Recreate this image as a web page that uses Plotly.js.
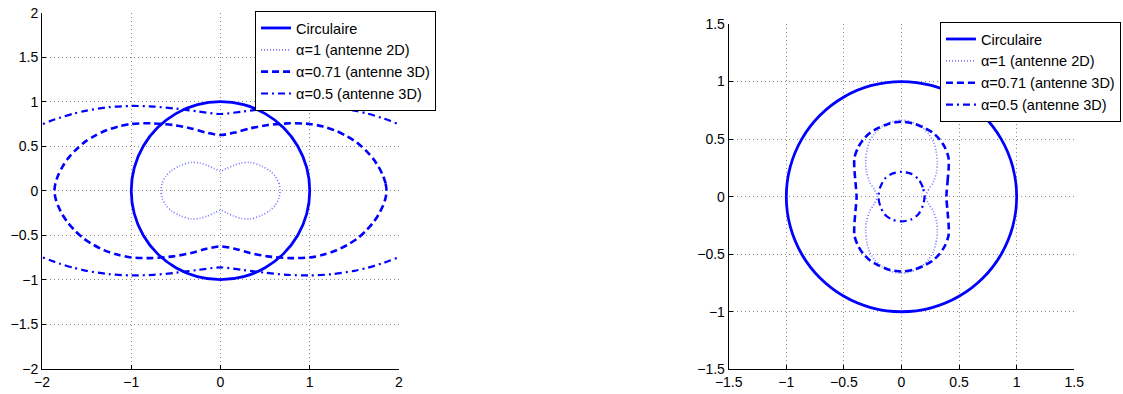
<!DOCTYPE html>
<html>
<head>
<meta charset="utf-8">
<script src="https://cdn.plot.ly/plotly-3.0.1.min.js"></script>
<style>html,body{margin:0;padding:0;background:#fff;}#chart{width:1123px;height:394px;}</style>
</head>
<body>
<div id="chart"></div>
<script>
// Legend labels
const seriesNames = ["Circulaire", "α=1 (antenne 2D)", "α=0.71 (antenne 3D)", "α=0.5 (antenne 3D)"];

// Unit circle (both panels)
const circleX = [1, 0.966, 0.866, 0.707, 0.5, 0.259, 0, -0.259, -0.5, -0.707, -0.866, -0.966, -1, -0.966, -0.866, -0.707, -0.5, -0.259, 0, 0.259, 0.5, 0.707, 0.866, 0.966, 1];
const circleY = [0, 0.259, 0.5, 0.707, 0.866, 0.966, 1, 0.966, 0.866, 0.707, 0.5, 0.259, 0, -0.259, -0.5, -0.707, -0.866, -0.966, -1, -0.966, -0.866, -0.707, -0.5, -0.259, 0];

// Left panel, alpha = 1 (dotted peanut)
const leftA1X = [0.667, 0.655, 0.615, 0.55, 0.454, 0.33, 0.23, 0.15, 0.07, 0, -0.07, -0.15, -0.23, -0.33, -0.454, -0.55, -0.615, -0.655, -0.667, -0.655, -0.615, -0.55, -0.454, -0.33, -0.23, -0.15, -0.07, 0, 0.07, 0.15, 0.23, 0.33, 0.454, 0.55, 0.615, 0.655, 0.667];
const leftA1Y = [0, 0.08, 0.16, 0.225, 0.28, 0.318, 0.31, 0.285, 0.25, 0.22, 0.25, 0.285, 0.31, 0.318, 0.28, 0.225, 0.16, 0.08, 0, -0.08, -0.16, -0.225, -0.28, -0.318, -0.31, -0.285, -0.25, -0.22, -0.25, -0.285, -0.31, -0.318, -0.28, -0.225, -0.16, -0.08, 0];

// Left panel, alpha = 0.71 (dashed)
const leftA071X = [1.86, 1.85, 1.82, 1.77, 1.71, 1.63, 1.53, 1.42, 1.3, 1.15, 1.0, 0.78, 0.53, 0.33, 0.17, 0, -0.17, -0.33, -0.53, -0.78, -1.0, -1.15, -1.3, -1.42, -1.53, -1.63, -1.71, -1.77, -1.82, -1.85, -1.86, -1.85, -1.82, -1.77, -1.71, -1.63, -1.53, -1.42, -1.3, -1.15, -1.0, -0.78, -0.53, -0.33, -0.17, 0, 0.17, 0.33, 0.53, 0.78, 1.0, 1.15, 1.3, 1.42, 1.53, 1.63, 1.71, 1.77, 1.82, 1.85, 1.86];
const leftA071Y = [0, 0.08, 0.17, 0.27, 0.36, 0.45, 0.54, 0.61, 0.67, 0.72, 0.75, 0.757, 0.738, 0.7, 0.655, 0.626, 0.655, 0.7, 0.738, 0.757, 0.75, 0.72, 0.67, 0.61, 0.54, 0.45, 0.36, 0.27, 0.17, 0.08, 0, -0.08, -0.17, -0.27, -0.36, -0.45, -0.54, -0.61, -0.67, -0.72, -0.75, -0.757, -0.738, -0.7, -0.655, -0.626, -0.655, -0.7, -0.738, -0.757, -0.75, -0.72, -0.67, -0.61, -0.54, -0.45, -0.36, -0.27, -0.17, -0.08, 0];

// Left panel, alpha = 0.5 (dash-dot, runs past the axes)
const leftA05X = [-2.1, -2.0, -1.9, -1.8, -1.65, -1.5, -1.25, -1.0, -0.75, -0.5, -0.25, 0, 0.25, 0.5, 0.75, 1.0, 1.25, 1.5, 1.65, 1.8, 1.9, 2.0, 2.1, null, -2.1, -2.0, -1.9, -1.8, -1.65, -1.5, -1.25, -1.0, -0.75, -0.5, -0.25, 0, 0.25, 0.5, 0.75, 1.0, 1.25, 1.5, 1.65, 1.8, 1.9, 2.0, 2.1];
const leftA05Y = [0.7, 0.745, 0.785, 0.82, 0.865, 0.9, 0.938, 0.952, 0.945, 0.922, 0.89, 0.862, 0.89, 0.922, 0.945, 0.952, 0.938, 0.9, 0.865, 0.82, 0.785, 0.745, 0.7, null, -0.7, -0.745, -0.785, -0.82, -0.865, -0.9, -0.938, -0.952, -0.945, -0.922, -0.89, -0.862, -0.89, -0.922, -0.945, -0.952, -0.938, -0.9, -0.865, -0.82, -0.785, -0.745, -0.7];

// Right panel, alpha = 1 (dotted vertical peanut)
const rightA1X = [0.21, 0.235, 0.278, 0.305, 0.311, 0.3, 0.28, 0.24, 0.17, 0.085, 0, -0.085, -0.17, -0.24, -0.28, -0.3, -0.311, -0.305, -0.278, -0.235, -0.21, -0.235, -0.278, -0.305, -0.311, -0.3, -0.28, -0.24, -0.17, -0.085, 0, 0.085, 0.17, 0.24, 0.28, 0.3, 0.311, 0.305, 0.278, 0.235, 0.21];
const rightA1Y = [0, 0.06, 0.13, 0.22, 0.3, 0.4, 0.47, 0.54, 0.61, 0.65, 0.665, 0.65, 0.61, 0.54, 0.47, 0.4, 0.3, 0.22, 0.13, 0.06, 0, -0.06, -0.13, -0.22, -0.3, -0.4, -0.47, -0.54, -0.61, -0.65, -0.665, -0.65, -0.61, -0.54, -0.47, -0.4, -0.3, -0.22, -0.13, -0.06, 0];

// Right panel, alpha = 0.71 (dashed)
const rightA071X = [0.39, 0.4, 0.41, 0.408, 0.377, 0.332, 0.27, 0.2, 0.115, 0, -0.115, -0.2, -0.27, -0.332, -0.377, -0.408, -0.41, -0.4, -0.39, -0.4, -0.41, -0.408, -0.377, -0.332, -0.27, -0.2, -0.115, 0, 0.115, 0.2, 0.27, 0.332, 0.377, 0.408, 0.41, 0.4, 0.39];
const rightA071Y = [0, 0.13, 0.26, 0.34, 0.427, 0.496, 0.557, 0.597, 0.632, 0.651, 0.632, 0.597, 0.557, 0.496, 0.427, 0.34, 0.26, 0.13, 0, -0.13, -0.26, -0.34, -0.427, -0.496, -0.557, -0.597, -0.632, -0.651, -0.632, -0.597, -0.557, -0.496, -0.427, -0.34, -0.26, -0.13, 0];

// Right panel, alpha = 0.5 (dash-dot small loop)
const rightA05X = [0.2, 0.185, 0.145, 0.08, 0, -0.08, -0.145, -0.185, -0.2, -0.185, -0.145, -0.08, 0, 0.08, 0.145, 0.185, 0.2];
const rightA05Y = [0, 0.08, 0.155, 0.2, 0.215, 0.2, 0.155, 0.08, 0, -0.08, -0.155, -0.2, -0.215, -0.2, -0.155, -0.08, 0];

const BLUE = '#0000ff';
const LIGHT = '#7878ff';
const styles = [
  {color: BLUE, width: 2.8, dash: 'solid', smooth: 1.0},
  {color: LIGHT, width: 1.7, dash: '1px,2px', smooth: 0.8},
  {color: BLUE, width: 2.6, dash: '7px,4px', smooth: 0.8},
  {color: BLUE, width: 2.2, dash: '7px,4px,2px,4px', smooth: 0.8}
];

function tr(x, y, i, xa, ya, leg) {
  return {
    type: 'scatter', mode: 'lines', x: x, y: y, name: seriesNames[i],
    xaxis: xa, yaxis: ya, legend: leg,
    line: {color: styles[i].color, width: styles[i].width, dash: styles[i].dash, shape: 'spline', smoothing: styles[i].smooth},
    connectgaps: false, hoverinfo: 'skip'
  };
}

const data = [
  tr(circleX, circleY, 0, 'x', 'y', 'legend'),
  tr(leftA1X, leftA1Y, 1, 'x', 'y', 'legend'),
  tr(leftA071X, leftA071Y, 2, 'x', 'y', 'legend'),
  tr(leftA05X, leftA05Y, 3, 'x', 'y', 'legend'),
  tr(circleX, circleY, 0, 'x2', 'y2', 'legend2'),
  tr(rightA1X, rightA1Y, 1, 'x2', 'y2', 'legend2'),
  tr(rightA071X, rightA071Y, 2, 'x2', 'y2', 'legend2'),
  tr(rightA05X, rightA05Y, 3, 'x2', 'y2', 'legend2')
];

const axBase = {
  showline: true, linecolor: '#000', linewidth: 1, mirror: false,
  ticks: 'inside', ticklen: 4, tickcolor: '#000', tickwidth: 1,
  showgrid: true, gridcolor: '#8a8a8a', griddash: '1px,3px', gridwidth: 1,
  zeroline: false, automargin: false, fixedrange: true,
  tickfont: {size: 14, color: '#000', family: 'Liberation Sans, Arial, sans-serif'}
};

const legBase = {
  xanchor: 'left', yanchor: 'top', bgcolor: '#fff', bordercolor: '#000', borderwidth: 1,
  font: {size: 14.5, color: '#000', family: 'Liberation Sans, Arial, sans-serif'},
  itemclick: false, itemdoubleclick: false, tracegroupgap: 0
};

const layout = {
  width: 1123, height: 394,
  margin: {l: 0, r: 0, t: 0, b: 0},
  paper_bgcolor: '#fff', plot_bgcolor: '#fff',
  font: {family: 'Liberation Sans, Arial, sans-serif', size: 14, color: '#000'},
  showlegend: true,
  xaxis: Object.assign({}, axBase, {domain: [0.0374, 0.3553], range: [-2, 2], dtick: 1, tick0: 0, anchor: 'y'}),
  yaxis: Object.assign({}, axBase, {domain: [0.0642, 0.9678], range: [-2, 2], dtick: 0.5, tick0: 0, anchor: 'x'}),
  xaxis2: Object.assign({}, axBase, {domain: [0.6489, 0.9566], range: [-1.5, 1.5], dtick: 0.5, tick0: 0, anchor: 'y2'}),
  yaxis2: Object.assign({}, axBase, {domain: [0.0627, 0.9391], range: [-1.5, 1.5], dtick: 0.5, tick0: 0, anchor: 'x2'}),
  legend: Object.assign({}, legBase, {x: 0.2271, y: 0.972}),
  legend2: Object.assign({}, legBase, {x: 0.837, y: 0.944})
};

Plotly.newPlot('chart', data, layout, {displayModeBar: false, staticPlot: true});
</script>
</body>
</html>
